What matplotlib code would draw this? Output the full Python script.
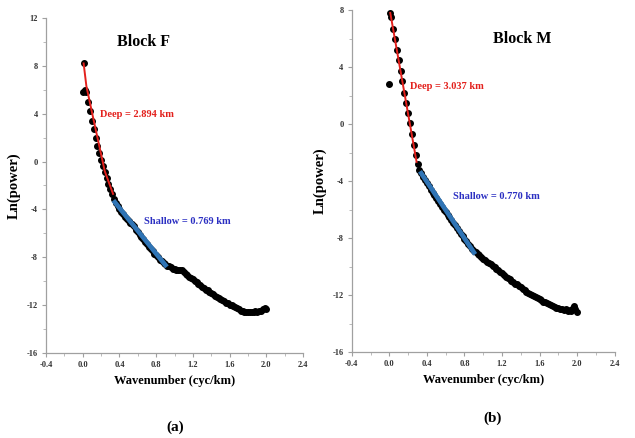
import numpy as np
import matplotlib
matplotlib.use("Agg")
import matplotlib.pyplot as plt
from matplotlib.ticker import MultipleLocator, FormatStrFormatter

plt.rcParams['font.family'] = ['Liberation Serif', 'DejaVu Serif']
plt.rcParams['axes.unicode_minus'] = False

# ---- Block F (panel a) ----
f_k = [0.00, 0.01, 0.03, 0.04, 0.06, 0.08, 0.10, 0.12, 0.14, 0.16, 0.18, 0.20,
       0.22, 0.24, 0.26, 0.28, 0.30, 0.32, 0.34, 0.36, 0.38, 0.40, 0.42, 0.44,
       0.46, 0.48, 0.50, 0.52, 0.54, 0.56, 0.58, 0.60, 0.62, 0.64, 0.66, 0.68,
       0.70, 0.72, 0.74, 0.76, 0.78, 0.80, 0.82, 0.84, 0.86, 0.88, 0.90, 0.92,
       0.94, 0.96, 0.98, 1.00, 1.02, 1.04, 1.06, 1.08, 1.10, 1.12, 1.14, 1.16,
       1.18, 1.20, 1.22, 1.24, 1.26, 1.28, 1.30, 1.32, 1.34, 1.36, 1.38, 1.40,
       1.42, 1.44, 1.46, 1.48, 1.50, 1.52, 1.54, 1.56, 1.58, 1.60, 1.62, 1.64,
       1.66, 1.68, 1.70, 1.72, 1.74, 1.76, 1.78, 1.80, 1.82, 1.84, 1.86, 1.88,
       1.90, 1.92, 1.94, 1.96, 1.98, 2.00]
f_lnp = [5.8, 8.2, 6.0, 5.8, 5.0, 4.2, 3.4, 2.7, 2.0, 1.3, 0.7, 0.1,
         -0.4, -0.9, -1.4, -1.9, -2.3, -2.7, -3.1, -3.5, -3.75, -4.0, -4.2, -4.4,
         -4.6, -4.8, -4.95, -5.1, -5.2, -5.4, -5.7, -5.9, -6.1, -6.3, -6.5, -6.7,
         -6.9, -7.1, -7.3, -7.5, -7.7, -7.85, -8.0, -8.2, -8.35, -8.5, -8.6, -8.7,
         -8.75, -8.85, -8.95, -9.0, -9.05, -9.1, -9.1, -9.05, -9.2, -9.4, -9.5, -9.65,
         -9.75, -9.85, -10.0, -10.1, -10.2, -10.3, -10.45, -10.55, -10.7, -10.75, -10.9, -11.0,
         -11.1, -11.2, -11.3, -11.4, -11.5, -11.6, -11.65, -11.8, -11.85, -11.95, -12.0, -12.1,
         -12.15, -12.25, -12.35, -12.45, -12.5, -12.6, -12.6, -12.55, -12.6, -12.55, -12.6, -12.5,
         -12.55, -12.45, -12.5, -12.3, -12.2, -12.3]
f_deep_k = [0.01, 0.04, 0.115, 0.24, 0.33]
f_deep_lnp = [8.2, 6.3, 3.6, -0.8, -2.7]
f_shallow_k = [0.35, 0.90]
f_shallow_lnp = [-3.4, -8.65]

# ---- Block M (panel b) ----
m_k = [0.00, 0.01, 0.02, 0.04, 0.06, 0.08, 0.10, 0.12, 0.14, 0.16, 0.18, 0.20,
       0.22, 0.24, 0.26, 0.28, 0.30, 0.32, 0.34, 0.36, 0.38, 0.40, 0.42, 0.44,
       0.46, 0.48, 0.50, 0.52, 0.54, 0.56, 0.58, 0.60, 0.62, 0.64, 0.66, 0.68,
       0.70, 0.72, 0.74, 0.76, 0.78, 0.80, 0.82, 0.84, 0.86, 0.88, 0.90, 0.92,
       0.94, 0.96, 0.98, 1.00, 1.02, 1.04, 1.06, 1.08, 1.10, 1.12, 1.14, 1.16,
       1.18, 1.20, 1.22, 1.24, 1.26, 1.28, 1.30, 1.32, 1.34, 1.36, 1.38, 1.40,
       1.42, 1.44, 1.46, 1.48, 1.50, 1.52, 1.54, 1.56, 1.58, 1.60, 1.62, 1.64,
       1.66, 1.68, 1.70, 1.72, 1.74, 1.76, 1.78, 1.80, 1.82, 1.84, 1.86, 1.88,
       1.90, 1.92, 1.94, 1.96, 1.97, 1.98, 2.00]
m_lnp = [2.8, 7.8, 7.5, 6.7, 6.0, 5.2, 4.5, 3.7, 3.0, 2.2, 1.5, 0.8,
         0.05, -0.7, -1.45, -2.2, -2.8, -3.2, -3.45, -3.7, -3.95, -4.15, -4.35, -4.6,
         -4.8, -5.0, -5.2, -5.4, -5.6, -5.8, -6.0, -6.2, -6.4, -6.55, -6.75, -6.95,
         -7.1, -7.3, -7.5, -7.7, -7.85, -8.05, -8.2, -8.4, -8.55, -8.75, -8.9, -9.0,
         -9.1, -9.2, -9.35, -9.45, -9.55, -9.65, -9.75, -9.85, -9.95, -10.05, -10.15, -10.25,
         -10.35, -10.45, -10.6, -10.7, -10.8, -10.9, -11.0, -11.1, -11.2, -11.25, -11.35, -11.45,
         -11.55, -11.65, -11.75, -11.85, -11.9, -12.0, -12.05, -12.15, -12.2, -12.3, -12.35, -12.45,
         -12.5, -12.55, -12.65, -12.7, -12.75, -12.85, -12.9, -12.9, -13.0, -12.95, -13.05, -13.0,
         -13.1, -13.05, -13.1, -12.9, -12.75, -13.0, -13.15]
m_deep_k = [0.01, 0.29]
m_deep_lnp = [7.8, -2.65]
m_shallow_k = [0.34, 0.90]
m_shallow_lnp = [-3.45, -9.0]

RED = "#e3201c"
BLUE = "#2f74b5"
TXT_BLUE = "#2b2fc2"


def draw_panel(ax, k, lnp, deep_k, deep_lnp, sh_k, sh_lnp, ylim, title, title_xy,
               deep_txt, deep_xy, sh_txt, sh_xy):
    ax.plot(k, lnp, 'o', color='black', markersize=4.0, zorder=2)
    ax.plot(sh_k, sh_lnp, '-', color=BLUE, linewidth=3.4, zorder=3)
    ax.plot(deep_k, deep_lnp, '-', color=RED, linewidth=1.4, zorder=3)

    ax.set_xlim(-0.4, 2.4)
    ax.set_ylim(*ylim)
    ax.xaxis.set_major_locator(MultipleLocator(0.4))
    ax.xaxis.set_minor_locator(MultipleLocator(0.2))
    ax.yaxis.set_major_locator(MultipleLocator(4))
    ax.yaxis.set_minor_locator(MultipleLocator(2))
    ax.xaxis.set_major_formatter(FormatStrFormatter('%.1f'))
    ax.yaxis.set_major_formatter(FormatStrFormatter('%d'))
    for s in ['top', 'right']:
        ax.spines[s].set_visible(False)
    for s in ['left', 'bottom']:
        ax.spines[s].set_color('#a0a0a0')
        ax.spines[s].set_linewidth(0.9)
    ax.tick_params(which='major', length=3, width=0.8, color='#a0a0a0',
                   labelsize=6, pad=3)
    ax.tick_params(which='minor', length=2, width=0.6, color='#b0b0b0')
    for lab in ax.get_xticklabels() + ax.get_yticklabels():
        lab.set_fontweight('bold')
        lab.set_color('#333333')

    ax.set_xlabel("Wavenumber (cyc/km)", fontsize=9, fontweight='bold', labelpad=4)
    ax.set_ylabel("Ln(power)", fontsize=10.5, fontweight='bold', labelpad=4)

    ax.text(*title_xy, title, fontsize=11.5, fontweight='bold', ha='center', va='center')
    ax.text(*deep_xy, deep_txt, fontsize=7.5, fontweight='bold', color=RED,
            ha='left', va='center')
    ax.text(*sh_xy, sh_txt, fontsize=7.5, fontweight='bold', color=TXT_BLUE,
            ha='left', va='center')


fig = plt.figure(figsize=(6.35, 4.38), dpi=100)
ax1 = fig.add_axes([0.0724, 0.194, 0.405, 0.765])
ax2 = fig.add_axes([0.554, 0.196, 0.414, 0.781])

draw_panel(ax1, f_k, f_lnp, f_deep_k, f_deep_lnp, f_shallow_k, f_shallow_lnp,
           (-16, 12), "Block F", (0.66, 10.0),
           "Deep = 2.894 km", (0.19, 3.9), "Shallow = 0.769 km", (0.67, -5.05))
draw_panel(ax2, m_k, m_lnp, m_deep_k, m_deep_lnp, m_shallow_k, m_shallow_lnp,
           (-16, 8), "Block M", (1.41, 6.0),
           "Deep = 3.037 km", (0.22, 2.67), "Shallow = 0.770 km", (0.68, -5.05))

fig.text(0.276, 0.025, "(a)", fontsize=11, fontweight='bold', ha='center', va='center')
fig.text(0.775, 0.046, "(b)", fontsize=11, fontweight='bold', ha='center', va='center')

fig.savefig("out.png", dpi=100)
